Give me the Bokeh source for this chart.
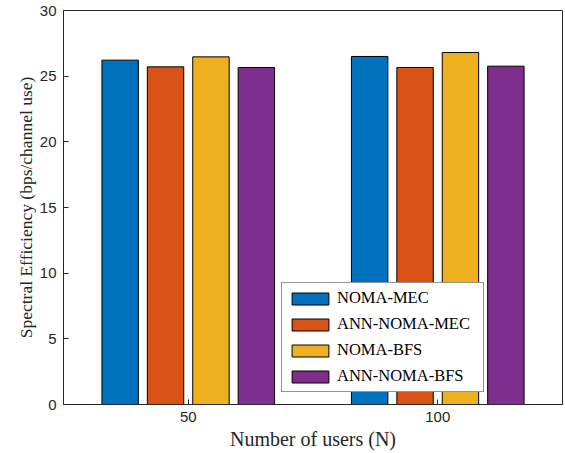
from bokeh.plotting import figure
from bokeh.models import ColumnDataSource, FixedTicker
from bokeh.transform import dodge
from bokeh.embed import file_html
from bokeh.resources import INLINE

# ---- data ----
users = ["50", "100"]
group_pos = [1, 2]
series = ["NOMA-MEC", "ANN-NOMA-MEC", "NOMA-BFS", "ANN-NOMA-BFS"]
noma_mec = [26.22, 26.50]
ann_noma_mec = [25.71, 25.66]
noma_bfs = [26.47, 26.80]
ann_noma_bfs = [25.66, 25.76]
y_ticks = [0, 5, 10, 15, 20, 25, 30]
colors = ["#0072BD", "#D95319", "#EDB120", "#7E2F8E"]

source = ColumnDataSource(dict(
    x=group_pos,
    s0=noma_mec,
    s1=ann_noma_mec,
    s2=noma_bfs,
    s3=ann_noma_bfs,
))

p = figure(
    width=565, height=453,
    x_range=(0.5, 2.5), y_range=(0, 30),
    output_backend="svg", toolbar_location=None,
    min_border_left=63, min_border_right=3,
    min_border_top=10, min_border_bottom=49,
)

spacing = 0.182
bar_w = 0.146
cols = ["s0", "s1", "s2", "s3"]
for i, (c, name, col) in enumerate(zip(cols, series, colors)):
    p.vbar(x=dodge("x", (i - 1.5) * spacing, range=p.x_range), top=c,
           width=bar_w, bottom=0, source=source,
           fill_color=col, line_color="#000000", line_width=1,
           legend_label=name)

axis_col = "#262626"
p.xgrid.visible = False
p.ygrid.visible = False
p.outline_line_color = axis_col
p.outline_line_width = 1
p.outline_line_alpha = 1

p.xaxis.ticker = FixedTicker(ticks=group_pos)
p.xaxis.major_label_overrides = {g: u for g, u in zip(group_pos, users)}
p.yaxis.ticker = FixedTicker(ticks=y_ticks)

for ax in (p.xaxis[0], p.yaxis[0]):
    ax.axis_line_color = axis_col
    ax.major_tick_line_color = axis_col
    ax.major_tick_in = 5
    ax.major_tick_out = 0
    ax.minor_tick_line_color = None
    ax.major_label_text_font = "Liberation Sans"
    ax.major_label_text_font_size = "15px"
    ax.major_label_text_color = axis_col
    ax.axis_label_text_font = "Liberation Serif"
    ax.axis_label_text_font_style = "normal"
    ax.axis_label_text_color = axis_col
    ax.major_label_standoff = 7

p.xaxis.axis_label = "Number of users (N)"
p.xaxis.axis_label_text_font_size = "20px"
p.xaxis.axis_label_standoff = 3

p.yaxis.axis_label = "Spectral Efficiency (bps/channel use)"
p.yaxis.axis_label_text_font_size = "17.5px"
p.yaxis.axis_label_standoff = 1

leg = p.legend[0]
leg.location = (218, 12)
leg.glyph_width = 46
leg.glyph_height = 15
leg.label_height = 15
leg.spacing = 6
leg.padding = 5
leg.margin = 0
leg.label_standoff = 4
leg.label_width = 141
leg.border_line_color = axis_col
leg.border_line_width = 1
leg.background_fill_color = "white"
leg.background_fill_alpha = 1
leg.label_text_font = "Liberation Serif"
leg.label_text_font_size = "16.5px"
leg.label_text_color = "#000000"

open("out.html", "w").write(file_html(p, INLINE))
